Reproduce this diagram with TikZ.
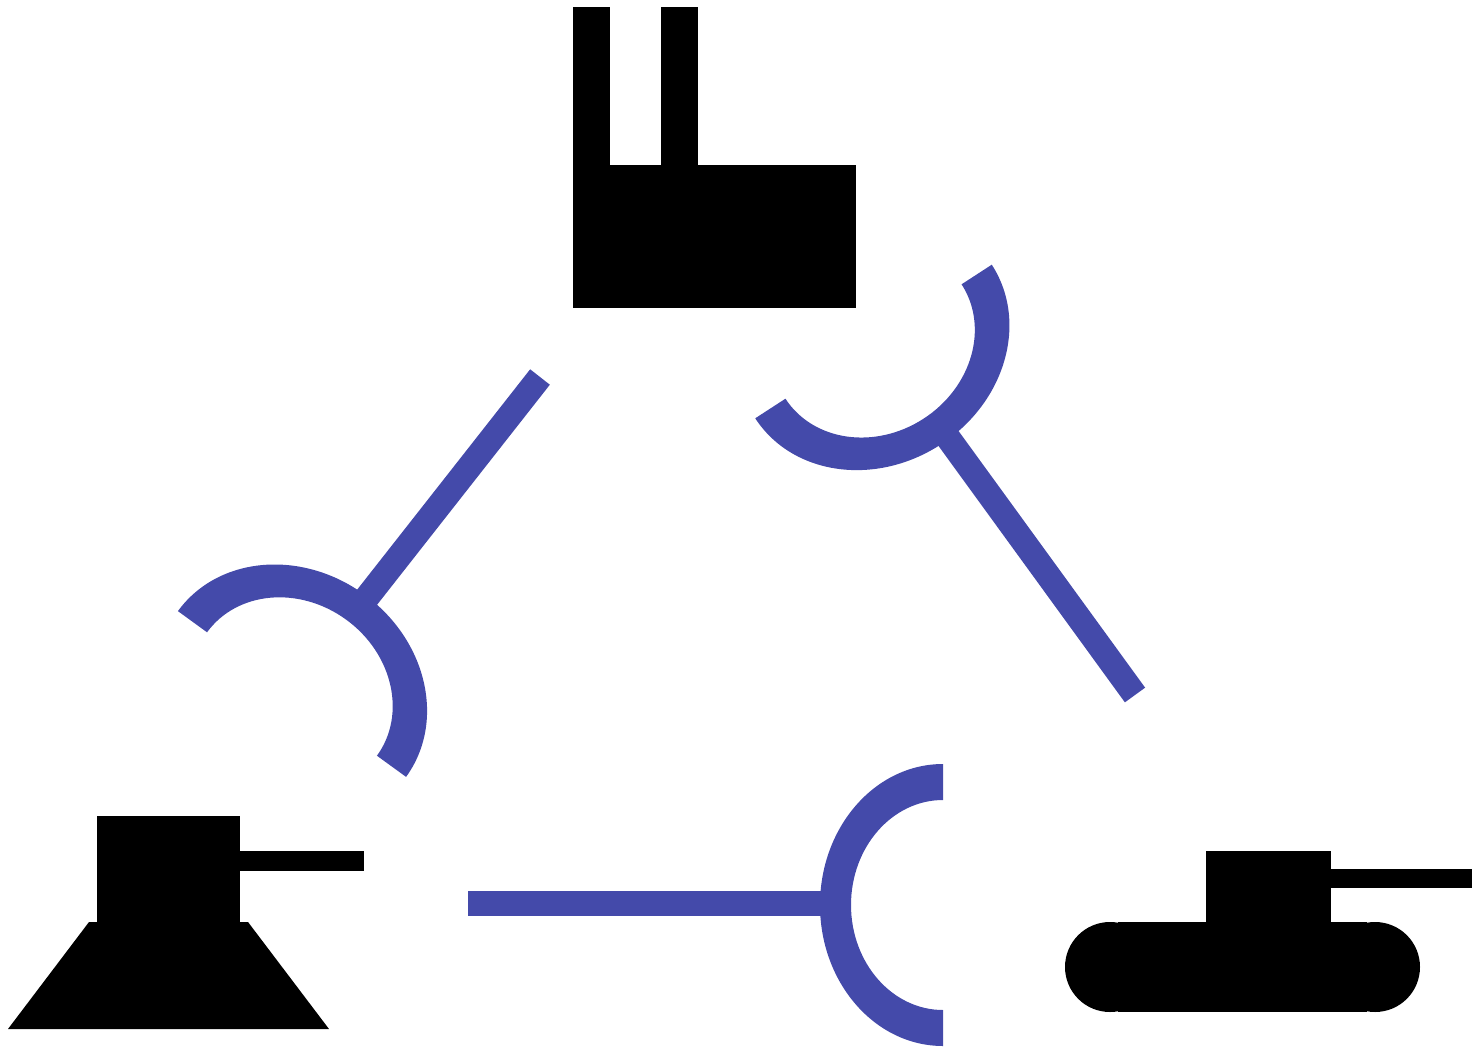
\documentclass[tikz,border=0pt]{standalone}
\definecolor{arcblue}{RGB}{68,74,170}
\tikzset{
  solid part/.style={fill=black,draw=none},
  stem/.style={draw=arcblue,line width=12.5pt},
}
\newcommand{\cupshape}[3]{%
  \begin{scope}[shift={(#1,#2)},rotate=#3]
    \fill[arcblue] (0,141) arc[start angle=90,end angle=270,x radius=123,y radius=141]
      -- (0,-105) arc[start angle=270,end angle=90,x radius=92,y radius=105] -- cycle;
  \end{scope}}
\begin{document}
\begin{tikzpicture}[x=0.5pt,y=-0.5pt]
\useasboundingbox (0,0) rectangle (1472,1049);
% factory
\fill[solid part] (572.5,165) rectangle (856,307.5);
\fill[solid part] (572.5,7) rectangle (610,185);
\fill[solid part] (660.5,7) rectangle (698,166);
% tank left
\fill[solid part] (97,816) rectangle (240,923);
\fill[solid part] (240,851) rectangle (363.5,871);
\fill[solid part] (8,1029) -- (329,1029) -- (248,922) -- (89,922) -- cycle;
% tank right
\fill[solid part] (1206,851) rectangle (1331,923);
\fill[solid part] (1331,869) rectangle (1472,888);
\fill[solid part] (1110,967) circle[radius=45];
\fill[solid part] (1375,967) circle[radius=45];
\fill[solid part] (1118,922) rectangle (1367,1012);
% connectors
\coordinate (ta) at (540,377);
\coordinate (tb) at (366.5,598);
\coordinate (ra) at (1135,695);
\coordinate (rb) at (946,435);
\coordinate (ba) at (468,903.5);
\coordinate (bb) at (822,903.5);
\draw[stem] (ta) -- (tb);
\draw[stem] (ra) -- (rb);
\draw[stem] (ba) -- (bb);
% cups
\cupshape{943}{905}{0}
\cupshape{873.5}{341.5}{123}
\cupshape{292}{694}{-126}
\end{tikzpicture}
\end{document}
